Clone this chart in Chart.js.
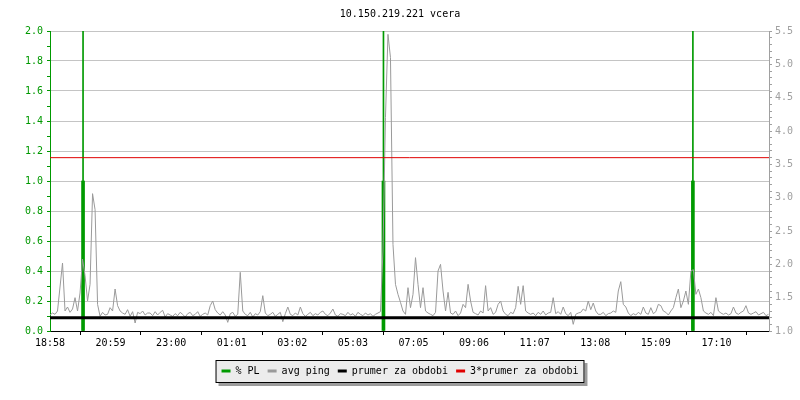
<!DOCTYPE html>
<html>
<head>
<meta charset="utf-8">
<script src="https://cdn.jsdelivr.net/npm/chart.js@4.4.0/dist/chart.umd.min.js"></script>
<style>
  body { margin: 0; background: #fff; }
</style>
</head>
<body>
<canvas id="chart" width="800" height="400"></canvas>
<script>
// time axis: minutes since 18:58, one ping sample every 5 minutes
const timeLabels = ['18:58', '20:59', '23:00', '01:01', '03:02', '05:03', '07:05', '09:06', '11:07', '13:08', '15:09', '17:10']
const tickStepMin = 121
const spanMin = 1436
const sampleMin = 5

// avg ping (right axis)
const pingValues = [
  1.24, 1.27, 1.25, 1.30, 1.66, 2.02, 1.30, 1.36, 1.28, 1.33,
  1.50, 1.30, 1.57, 2.08, 1.83, 1.45, 1.70, 3.06, 2.82, 1.40,
  1.22, 1.28, 1.24, 1.25, 1.35, 1.30, 1.63, 1.38, 1.30, 1.27,
  1.25, 1.32, 1.22, 1.29, 1.12, 1.28, 1.26, 1.30, 1.24, 1.27,
  1.27, 1.23, 1.29, 1.24, 1.28, 1.31, 1.21, 1.26, 1.24, 1.22,
  1.26, 1.23, 1.28, 1.25, 1.21, 1.26, 1.28, 1.23, 1.25, 1.29,
  1.22, 1.25, 1.27, 1.24, 1.38, 1.45, 1.32, 1.27, 1.24, 1.29,
  1.24, 1.13, 1.26, 1.28, 1.22, 1.25, 1.88, 1.30, 1.25, 1.23,
  1.28, 1.21, 1.26, 1.24, 1.29, 1.53, 1.27, 1.23, 1.25, 1.28,
  1.22, 1.25, 1.28, 1.14, 1.26, 1.36, 1.25, 1.23, 1.27, 1.24,
  1.36, 1.26, 1.22, 1.25, 1.28, 1.23, 1.26, 1.24, 1.28, 1.30,
  1.25, 1.23, 1.27, 1.33, 1.24, 1.22, 1.26, 1.25, 1.23, 1.28,
  1.24, 1.26, 1.22, 1.28, 1.25, 1.23, 1.27, 1.24, 1.26, 1.22,
  1.25, 1.27, 1.29, 2.20, 4.20, 5.45, 5.10, 2.30, 1.70, 1.55,
  1.43, 1.30, 1.25, 1.65, 1.35, 1.55, 2.10, 1.70, 1.35, 1.65,
  1.30, 1.27, 1.25, 1.23, 1.28, 1.90, 2.00, 1.60, 1.30, 1.58,
  1.27, 1.25, 1.30, 1.23, 1.27, 1.40, 1.35, 1.70, 1.45, 1.28,
  1.26, 1.24, 1.30, 1.27, 1.68, 1.30, 1.35, 1.25, 1.28, 1.40,
  1.45, 1.30, 1.25, 1.23, 1.28, 1.26, 1.35, 1.67, 1.40, 1.68,
  1.30, 1.27, 1.25, 1.27, 1.23, 1.28, 1.25, 1.30, 1.24, 1.27,
  1.28, 1.50, 1.26, 1.29, 1.25, 1.36, 1.26, 1.23, 1.28, 1.10,
  1.25, 1.27, 1.28, 1.33, 1.30, 1.45, 1.32, 1.42, 1.30, 1.25,
  1.25, 1.28, 1.23, 1.26, 1.27, 1.30, 1.28, 1.60, 1.74, 1.40,
  1.36, 1.27, 1.23, 1.26, 1.24, 1.28, 1.25, 1.36, 1.27, 1.25,
  1.35, 1.26, 1.29, 1.40, 1.38, 1.30, 1.28, 1.24, 1.30, 1.35,
  1.50, 1.63, 1.35, 1.45, 1.60, 1.40, 1.90, 1.92, 1.55, 1.63,
  1.50, 1.30, 1.27, 1.25, 1.28, 1.23, 1.50, 1.30, 1.27, 1.25,
  1.27, 1.24, 1.26, 1.36, 1.27, 1.25, 1.28, 1.30, 1.38, 1.27,
  1.25, 1.27, 1.29, 1.24, 1.26, 1.28, 1.23, 1.25
]

// packet loss events (left axis)
const plMinutes = [66, 666, 1284]
const plValues = [1.0, 1.0, 1.0]
const unknownValues = [2.0, 2.0, 2.0]

const prumer = 1.2

let pingPoints = pingValues.map((v, i) => ({ x: i * sampleMin, y: v }))
let plPoints = plMinutes.map((m, i) => ({ x: m, y: plValues[i] }))
let unknownPoints = plMinutes.map((m, i) => ({ x: m, y: unknownValues[i] }))
let flat = v => [{ x: 0, y: v }, { x: spanMin, y: v }]

const mono = { family: 'DejaVu Sans Mono', size: 10 }

let legendFrame = {
  id: 'legendFrame',
  beforeDraw(chart) {
    let boxes = chart.legend.legendHitBoxes
    if (!boxes || !boxes.length) return
    let left = Math.min(...boxes.map(b => b.left)) - 6
    let right = Math.max(...boxes.map(b => b.left + b.width)) + 6
    let top = boxes[0].top - 6
    let bottom = boxes[0].top + boxes[0].height + 7
    let ctx = chart.ctx
    ctx.save()
    ctx.fillStyle = '#9c9c9c'
    ctx.fillRect(left + 3, top + 3, right - left, bottom - top)
    ctx.fillStyle = '#ececec'
    ctx.fillRect(left, top, right - left, bottom - top)
    ctx.strokeStyle = '#000'
    ctx.lineWidth = 1
    ctx.strokeRect(left + 0.5, top + 0.5, right - left - 1, bottom - top - 1)
    ctx.restore()
  }
}

let config = {
  type: 'line',
  data: {
    datasets: [{
      type: 'bar',
      label: '% PL',
      data: plPoints,
      yAxisID: 'y',
      backgroundColor: '#009a00',
      borderColor: '#009a00',
      borderWidth: 0,
      barThickness: 3,
      grouped: false,
      order: 3
    }, {
      label: 'avg ping',
      data: pingPoints,
      yAxisID: 'y1',
      borderColor: '#9a9a9a',
      backgroundColor: '#9a9a9a',
      borderWidth: 1,
      pointRadius: 0,
      tension: 0,
      order: 2
    }, {
      label: 'prumer za obdobi',
      data: flat(prumer),
      yAxisID: 'y1',
      borderColor: '#000',
      backgroundColor: '#000',
      borderWidth: 3,
      pointRadius: 0,
      order: 1
    }, {
      label: '3*prumer za obdobi',
      data: flat(3 * prumer),
      yAxisID: 'y1',
      borderColor: '#e00000',
      backgroundColor: '#e00000',
      borderWidth: 1,
      pointRadius: 0,
      order: 0
    }, {
      type: 'bar',
      label: 'unknown',
      data: unknownPoints,
      yAxisID: 'y',
      backgroundColor: '#009a00',
      borderWidth: 0,
      barThickness: 1,
      grouped: false,
      order: 4
    }]
  },
  options: {
    responsive: false,
    animation: false,
    devicePixelRatio: 1,
    layout: { padding: { left: 0, right: 0, top: 0, bottom: 14 } },
    plugins: {
      title: {
        display: true,
        text: '10.150.219.221 vcera',
        color: '#000',
        font: { ...mono, weight: 'normal' },
        padding: { top: 8, bottom: 11 }
      },
      legend: {
        position: 'bottom',
        labels: {
          font: mono,
          color: '#000',
          boxWidth: 9,
          boxHeight: 3,
          padding: 8,
          filter: item => item.text != 'unknown',
          sort: (a, b) => a.datasetIndex - b.datasetIndex,
          generateLabels: chart => {
            let items = Chart.defaults.plugins.legend.labels.generateLabels(chart)
            items.forEach(item => {
              item.fillStyle = item.strokeStyle
              item.lineWidth = 0
            })
            return items
          }
        }
      },
      tooltip: { enabled: false }
    },
    scales: {
      x: {
        type: 'linear',
        min: 0,
        max: spanMin,
        offset: false,
        afterBuildTicks: scale => {
          scale.ticks = timeLabels.map((_, k) => ({ value: k * tickStepMin }))
        },
        afterFit: scale => { scale.height = 27 },
        ticks: {
          autoSkip: false,
          maxRotation: 0,
          padding: 2,
          color: '#000',
          font: mono,
          callback: (value, index) => timeLabels[index]
        },
        grid: { drawOnChartArea: false, tickLength: 4, tickColor: '#000' },
        border: { color: '#000' }
      },
      y: {
        position: 'left',
        min: 0,
        max: 2,
        afterFit: scale => { scale.width = 50 },
        ticks: {
          stepSize: 0.1,
          autoSkip: false,
          maxTicksLimit: 100,
          padding: 4,
          color: '#009900',
          font: mono,
          callback: value => {
            let k = Math.round(value * 10)
            return k % 2 ? '' : (k / 10).toFixed(1)
          }
        },
        grid: {
          color: ctx => Math.round(ctx.tick.value * 10) % 2 ? 'rgba(0,0,0,0)' : '#c4c4c4',
          tickColor: '#009900',
          tickLength: 3
        },
        border: { color: '#009900' }
      },
      y1: {
        position: 'right',
        min: 1,
        max: 5.5,
        afterFit: scale => { scale.width = 31 },
        ticks: {
          stepSize: 0.1,
          autoSkip: false,
          maxTicksLimit: 100,
          padding: 3,
          color: '#a0a0a0',
          font: mono,
          callback: value => {
            let k = Math.round(value * 10)
            return k % 5 ? '' : (k / 10).toFixed(1)
          }
        },
        grid: { drawOnChartArea: false, tickColor: '#a0a0a0', tickLength: 3 },
        border: { color: '#a0a0a0' }
      }
    }
  },
  plugins: [legendFrame]
}

new Chart(document.getElementById('chart'), config)
</script>
</body>
</html>
